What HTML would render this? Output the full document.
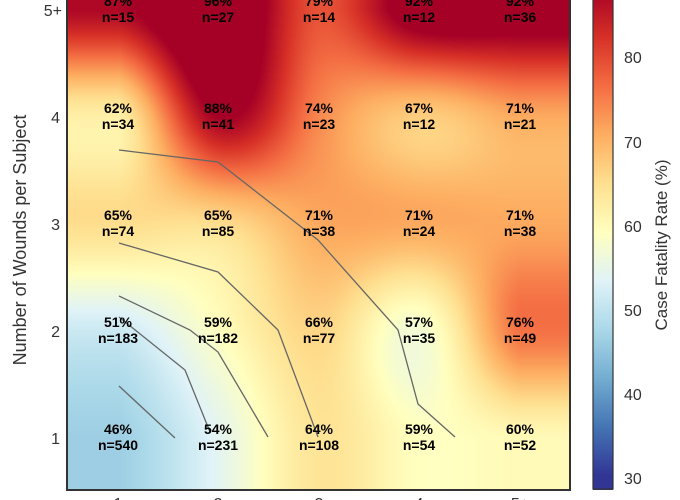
<!DOCTYPE html>
<html><head><meta charset="utf-8"><style>
body{margin:0;background:#fff;width:680px;height:500px;overflow:hidden;position:relative;font-family:"Liberation Sans",sans-serif}
#hm{position:absolute;left:68px;top:-45px}
svg{position:absolute;left:0;top:0}
</style></head><body>
<canvas id="hm" width="502" height="535"></canvas>
<canvas id="cb" width="20" height="490" style="position:absolute;left:593px;top:0"></canvas>
<svg width="680" height="500" font-family="Liberation Sans, sans-serif">
<rect x="67" y="-5" width="503" height="495" fill="none" stroke="#333" stroke-width="2"/>
<rect x="593" y="-5" width="20" height="494" fill="none" stroke="#333" stroke-width="1.2"/>
<g fill="none" stroke="#666" stroke-width="1.3">
<polyline points="119,386 175,438"/>
<polyline points="119,317 185,370 210,432"/>
<polyline points="119,296 190,330 218,352 268,437"/>
<polyline points="119,243 218,272 278,330 318,437"/>
<polyline points="119,150 218,162 318,240 398,330 418,404 455,437"/>
</g>
<g font-size="16" fill="#333" text-anchor="end">
<text x="60" y="444">1</text><text x="60" y="337">2</text><text x="60" y="230">3</text><text x="60" y="123">4</text><text x="62" y="16">5+</text>
</g>
<g font-size="16" fill="#333" text-anchor="middle">
<text x="118" y="509">1</text><text x="218" y="509">2</text><text x="319" y="509">3</text><text x="419" y="509">4</text><text x="520" y="509">5+</text>
</g>
<text transform="translate(26,240) rotate(-90)" font-size="18" fill="#333" text-anchor="middle">Number of Wounds per Subject</text>
<g font-size="16" fill="#333">
<text x="624" y="63">80</text><text x="624" y="148">70</text><text x="624" y="232">60</text><text x="624" y="316">50</text><text x="624" y="400">40</text><text x="624" y="484">30</text>
</g>
<text transform="translate(667,245) rotate(-90)" font-size="17" fill="#333" text-anchor="middle">Case Fatality Rate (%)</text>
<g id="lab" font-size="14" font-weight="bold" text-anchor="middle" fill="#000"></g>
</svg>
<script>
var V=[[46,54,64,59,60],[51,59,66,57,76],[65,65,71,71,71],[62,88,74,67,71],[87,96,79,92,92]];
var N=[[540,231,108,54,52],[183,182,77,35,49],[74,85,38,24,38],[34,41,23,12,21],[15,27,14,12,36]];
var cm=[[0,[49,54,149]],[0.1,[69,117,180]],[0.2,[116,173,209]],[0.3,[171,217,233]],[0.4,[224,243,248]],[0.5,[255,255,191]],[0.6,[254,224,144]],[0.7,[253,174,97]],[0.8,[244,109,67]],[0.9,[215,48,39]],[1,[165,0,38]]];
function col(v){var t=(v-30)/(88-30);t=Math.max(0,Math.min(1,t));for(var i=1;i<cm.length;i++){if(t<=cm[i][0]){var a=cm[i-1],b=cm[i],f=(t-a[0])/(b[0]-a[0]);return [0,1,2].map(function(k){return Math.round(a[1][k]+(b[1][k]-a[1][k])*f)});}}return cm[10][1];}
function g(r,c){r=Math.max(0,Math.min(4,r));c=Math.max(0,Math.min(4,c));return V[r][c];}
function cr(p0,p1,p2,p3,t){return 0.5*(2*p1+(-p0+p2)*t+(2*p0-5*p1+4*p2-p3)*t*t+(-p0+3*p1-3*p2+p3)*t*t*t);}
function interp(r,c){var r0=Math.floor(r),c0=Math.floor(c),tr=r-r0,tc=c-c0,rows=[];for(var i=-1;i<3;i++){rows.push(cr(g(r0+i,c0-1),g(r0+i,c0),g(r0+i,c0+1),g(r0+i,c0+2),tc));}return cr(rows[0],rows[1],rows[2],rows[3],tr);}
var cv=document.getElementById('hm'),ctx=cv.getContext('2d'),im=ctx.createImageData(502,535);
for(var y=0;y<535;y++){for(var x=0;x<502;x++){var c=(x-50)/100.4;var r=(535-53-y)/107;var v=interp(Math.max(0,Math.min(4,r)),Math.max(0,Math.min(4,c)));var k=col(v),o=(y*502+x)*4;im.data[o]=k[0];im.data[o+1]=k[1];im.data[o+2]=k[2];im.data[o+3]=255;}}
ctx.putImageData(im,0,0);
var cb=document.getElementById('cb'),cx=cb.getContext('2d');
for(var y=0;y<490;y++){var v=30+(475-y)/8.4;if(y>475)v=30;var k=col(v);cx.fillStyle='rgb('+k+')';cx.fillRect(0,y,20,1);}
var lab=document.getElementById('lab'),s='';
var xs=[118,218,319,419,520],ys=[438,331,224,117,10];
for(var r=0;r<5;r++)for(var c=0;c<5;c++){s+='<text x="'+xs[c]+'" y="'+(ys[r]-4)+'">'+V[r][c]+'%</text><text x="'+xs[c]+'" y="'+(ys[r]+12)+'">n='+N[r][c]+'</text>';}
lab.innerHTML=s;
</script>
</body></html>
